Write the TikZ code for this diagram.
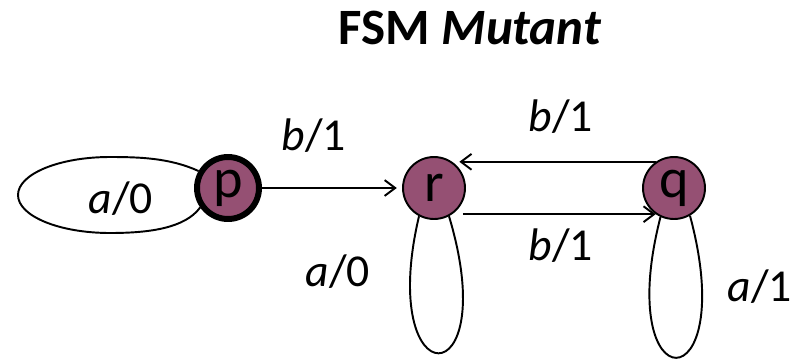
\documentclass[tikz,border=0pt]{standalone}
\usepackage{fontspec}
\setmainfont{Carlito}
\usepackage{tikz}
\usetikzlibrary{arrows.meta, positioning, calc}
\definecolor{fsmPlum}{HTML}{955073}

\begin{document}
\begin{tikzpicture}[
  x=0.02cm, y=-0.02cm,
  >={Straight Barb[length=6pt, width=9pt]},
  line width=1.1pt,
  state/.style={circle, draw=black, fill=fsmPlum, minimum size=1.24cm,
                inner sep=0pt, font=\fontsize{32}{35}\selectfont},
  start/.style={line width=3.4pt},
  lbl/.style={font=\fontsize{26}{30}\selectfont, inner sep=0pt},
  ttl/.style={font=\fontsize{29}{34}\selectfont\bfseries, inner sep=0pt},
]
\useasboundingbox (0,0) rectangle (795,359);

% title
\node[ttl] (title) at (470,28) {FSM \textit{Mutant}};

% ============================== states ======================================
\node[state, start] (p) at (228,188) {p};
\node[state] (r) at (434,188) {r};
\node[state] (q) at (674,188) {q};

% ============================ transitions ===================================
\draw[->, shorten >=3pt] (p.east) -- (r.west);
\draw[->, shorten >=4pt] (q.125) -- (r.55);
\draw[->, shorten <=6pt] (r.-55) -- (q.-125);

% self loops, drawn round from the node back into it
\draw (p.150) .. controls (170,158) and (140,157) .. (110,157)
      .. controls (59,157) and (18,174) .. (18,195)
      .. controls (18,216) and (59,233) .. (110,233)
      .. controls (150,233) and (185,228) .. (p.215);
\draw (r.-118) .. controls (376,399) and (504,399) .. (r.-62);
\draw (q.-115) .. controls (612,405) and (741,405) .. (q.-60);

% ============================== labels ======================================
\node[lbl] (lpr) at (314,136) {\textit{b}/1};
\node[lbl] (lqr) at (561,117) {\textit{b}/1};
\node[lbl] (lrq) at (561,246) {\textit{b}/1};
\node[lbl] (lpp) at (121,199) {\textit{a}/0};
\node[lbl] (lrr) at (338,272) {\textit{a}/0};
\node[lbl] (lqq) at (760,287) {\textit{a}/1};
\end{tikzpicture}
\end{document}
